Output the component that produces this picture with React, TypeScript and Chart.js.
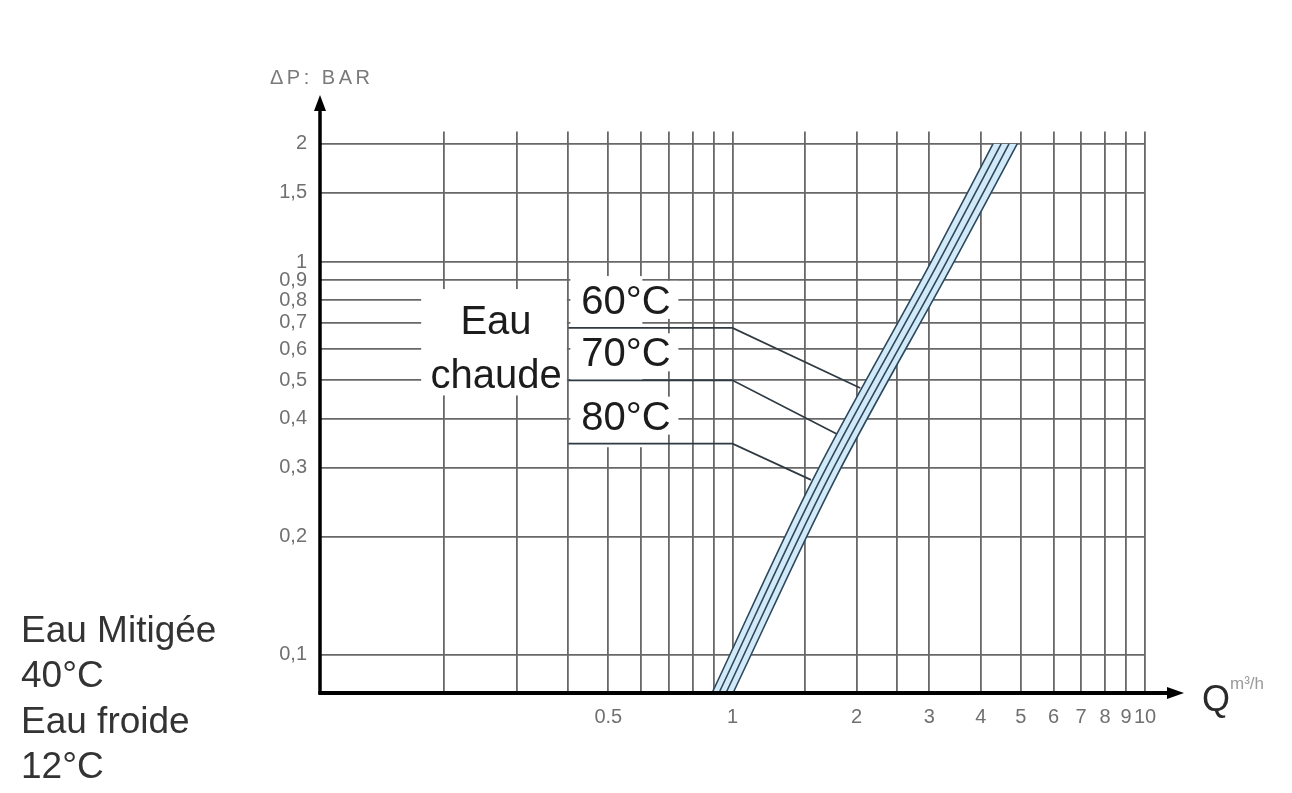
import React, { useEffect, useRef } from "react";
import { Chart, registerables } from "chart.js";

Chart.register(...registerables);

// ---------- data ----------
const X_TICKS = [0.2, 0.3, 0.4, 0.5, 0.6, 0.7, 0.8, 0.9, 1, 1.5, 2, 2.5, 3, 4, 5, 6, 7, 8, 9, 10];
const X_LABELS = ["", "", "", "0.5", "", "", "", "", "1", "", "2", "", "3", "4", "5", "6", "7", "8", "9", "10"];
const Y_TICKS = [0.1, 0.2, 0.3, 0.4, 0.5, 0.6, 0.7, 0.8, 0.9, 1, 1.5, 2];
const Y_LABELS = ["0,1", "0,2", "0,3", "0,4", "0,5", "0,6", "0,7", "0,8", "0,9", "1", "1,5", "2"];

// pressure-drop curves (band of four lines)
const CURVE_Y = [0.08, 0.28, 1.0, 2.0];
const CURVE_A_X = [0.892, 1.567, 3.028, 4.28];
const CURVE_B_X = [0.927, 1.633, 3.16, 4.48];
const CURVE_C_X = [0.964, 1.701, 3.3, 4.68];
const CURVE_D_X = [1.003, 1.772, 3.44, 4.9];

// leader lines for the hot-water temperatures
const LEADER_LABELS = ["60°C", "70°C", "80°C"];
const LEADER_Y = [0.68, 0.5, 0.345];
const LEADER_START_X = 0.4;
const LEADER_CORNER_X = 1.0;
const LEADER_END_X = [2.04, 1.81, 1.55];
const LEADER_END_Y = [0.478, 0.363, 0.279];

const HOT_LABEL = ["Eau", "chaude"];
const SIDE_LABELS = ["Eau Mitigée", "40°C", "Eau froide", "12°C"];
const Y_TITLE = "ΔP: BAR";
const X_TITLE = "Q";
const X_UNIT = "m³/h";

// ---------- styles ----------
const FONT = "'Liberation Sans', Arial, Helvetica, sans-serif";
const GRID = "#686868";
const CURVE_COLOR = "#2c4960";
const BAND_FILL = "#d2eaf7";

const W = 1292;
const H = 793;

const pts = (xs: number[], ys: number[]) => xs.map((x, i) => ({ x, y: ys[i] }));

const decor = {
  id: "decor",
  beforeDraw(chart: any) {
    const ctx = chart.ctx;
    ctx.save();
    ctx.fillStyle = "#ffffff";
    ctx.fillRect(0, 0, chart.width, chart.height);
    ctx.restore();
  },
  beforeDatasetsDraw(chart: any) {
    const ctx = chart.ctx;
    const xs = chart.scales.x;
    const ys = chart.scales.y;
    const px = (v: number) => xs.getPixelForValue(v);
    const py = (v: number) => ys.getPixelForValue(v);
    ctx.save();

    // white mask behind "Eau chaude"
    ctx.fillStyle = "#ffffff";
    const mL = px(0.2) - 23;
    const mR = px(0.4) - 1.5;
    const mT = py(0.9) + 9;
    const mB = py(0.4) - 23;
    ctx.fillRect(mL, mT, mR - mL, mB - mT);

    // masks behind temperature labels
    const bx = px(LEADER_START_X);
    ctx.fillRect(bx + 2, py(0.9) - 4, 72, py(0.33) - py(0.9));
    LEADER_Y.forEach((v) => {
      const base = py(v) - 14;
      ctx.fillRect(bx + 70, base - 33, 40, 38);
    });

    // texts
    ctx.fillStyle = "#1c1c1c";
    ctx.textBaseline = "alphabetic";
    ctx.font = `40px ${FONT}`;
    ctx.textAlign = "center";
    const cx = (mL + mR) / 2 + 2;
    ctx.fillText(HOT_LABEL[0], cx, py(0.9) + 54);
    ctx.fillText(HOT_LABEL[1], cx, py(0.9) + 108);
    ctx.textAlign = "left";
    LEADER_LABELS.forEach((t, i) => {
      ctx.fillText(t, bx + 13, py(LEADER_Y[i]) - 14);
    });
    ctx.restore();
  },
  afterDatasetsDraw(chart: any) {
    const ctx = chart.ctx;
    const a = chart.chartArea;
    ctx.save();
    ctx.strokeStyle = "#000";
    ctx.fillStyle = "#000";
    // y axis with arrow
    ctx.lineWidth = 3.5;
    ctx.beginPath();
    ctx.moveTo(a.left, a.bottom + 1.5);
    ctx.lineTo(a.left, 108);
    ctx.stroke();
    ctx.beginPath();
    ctx.moveTo(a.left, 95);
    ctx.lineTo(a.left - 6, 111);
    ctx.lineTo(a.left + 6, 111);
    ctx.closePath();
    ctx.fill();
    // x axis with arrow
    ctx.lineWidth = 4;
    ctx.beginPath();
    ctx.moveTo(a.left - 1.5, a.bottom);
    ctx.lineTo(1170, a.bottom);
    ctx.stroke();
    ctx.beginPath();
    ctx.moveTo(1184, a.bottom);
    ctx.lineTo(1167, a.bottom - 6);
    ctx.lineTo(1167, a.bottom + 6);
    ctx.closePath();
    ctx.fill();

    // axis titles
    ctx.fillStyle = "#7a7a7a";
    ctx.font = `20px ${FONT}`;
    ctx.textAlign = "left";
    ctx.textBaseline = "alphabetic";
    (ctx as any).letterSpacing = "3.5px";
    ctx.fillText(Y_TITLE, 270, 84);
    (ctx as any).letterSpacing = "0px";

    ctx.fillStyle = "#2a2a2a";
    ctx.font = `36px ${FONT}`;
    ctx.fillText(X_TITLE, 1202, 711);
    ctx.fillStyle = "#9a9a9a";
    ctx.font = `17px ${FONT}`;
    ctx.fillText(X_UNIT, 1230, 689);

    // side labels
    ctx.fillStyle = "#333333";
    ctx.font = `37px ${FONT}`;
    SIDE_LABELS.forEach((t, i) => {
      ctx.fillText(t, 21, 642 + i * 45.3);
    });
    ctx.restore();
  },
};

export default function App() {
  const ref = useRef<HTMLCanvasElement | null>(null);

  useEffect(() => {
    if (!ref.current) return;
    const curveDs = (xs: number[], fill: any) => ({
      data: pts(xs, CURVE_Y),
      indexAxis: "y",
      borderColor: CURVE_COLOR,
      backgroundColor: BAND_FILL,
      borderWidth: 1.6,
      pointRadius: 0,
      fill,
      cubicInterpolationMode: "monotone",
    });
    const leaderDs = LEADER_Y.map((v, i) => ({
      data: [
        { x: LEADER_START_X, y: v },
        { x: LEADER_CORNER_X, y: v },
        { x: LEADER_END_X[i], y: LEADER_END_Y[i] },
      ],
      borderColor: "#2f3a42",
      borderWidth: 1.7,
      pointRadius: 0,
      fill: false,
      tension: 0,
    }));

    const chart = new Chart(ref.current, {
      type: "line",
      data: {
        datasets: [
          curveDs(CURVE_A_X, false),
          curveDs(CURVE_B_X, false),
          curveDs(CURVE_C_X, false),
          curveDs(CURVE_D_X, "-3"),
          ...leaderDs,
        ] as any,
      },
      options: {
        animation: false,
        responsive: false,
        layout: { padding: { left: 0, top: 131.5, right: 147, bottom: 0 } },
        plugins: {
          legend: { display: false },
          tooltip: { enabled: false },
          filler: { propagate: false },
        },
        scales: {
          x: {
            type: "logarithmic",
            min: 0.1,
            max: 10,
            position: "bottom",
            afterBuildTicks: (s: any) => {
              s.ticks = X_TICKS.map((v) => ({ value: v }));
            },
            afterFit: (s: any) => {
              s.height = 100;
            },
            grid: { color: GRID, lineWidth: 1.8, drawTicks: false },
            border: { display: false },
            ticks: {
              autoSkip: false,
              maxRotation: 0,
              minRotation: 0,
              padding: 12,
              color: "#707070",
              font: { family: FONT, size: 20 },
              callback: (_v: any, i: number) => X_LABELS[i],
            },
          },
          y: {
            type: "logarithmic",
            min: 0.08,
            max: 2.15,
            afterBuildTicks: (s: any) => {
              s.ticks = Y_TICKS.map((v) => ({ value: v }));
            },
            afterFit: (s: any) => {
              s.width = 320;
            },
            grid: { color: GRID, lineWidth: 1.8, drawTicks: false },
            border: { display: false },
            ticks: {
              autoSkip: false,
              padding: 13,
              color: "#707070",
              font: { family: FONT, size: 20 },
              callback: (_v: any, i: number) => Y_LABELS[i],
            },
          },
        },
      } as any,
      plugins: [decor],
    });
    return () => chart.destroy();
  }, []);

  return (
    <div style={{ position: "absolute", left: 0, top: 0, width: W, height: H, background: "#fff" }}>
      <canvas ref={ref} width={W} height={H} style={{ display: "block", width: W, height: H }} />
    </div>
  );
}
